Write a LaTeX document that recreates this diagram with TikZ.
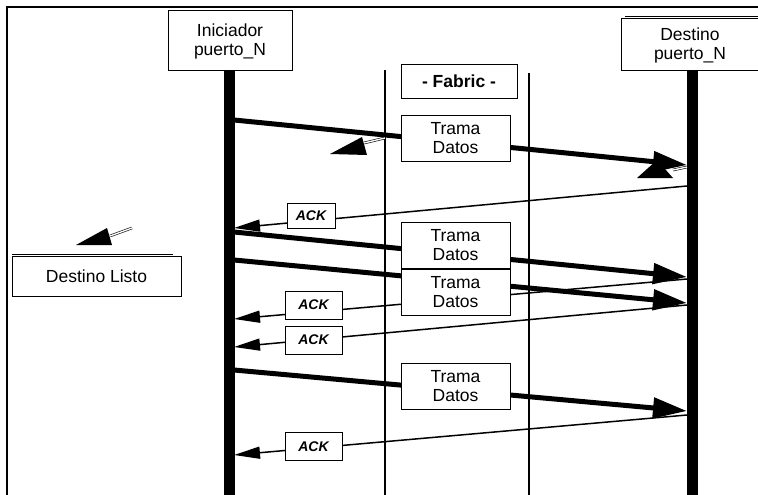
\documentclass[tikz,border=0pt]{standalone}
\usepackage{fontspec}
\setmainfont{Liberation Sans}
\usetikzlibrary{arrows.meta, backgrounds, positioning}

\begin{document}
\begin{tikzpicture}[
      x=1pt, y=-1pt,
      box/.style={draw, line width=1pt, fill=white, align=center, inner sep=0pt,
        font=\fontsize{17.5}{19}\selectfont},
      trama/.style={box, minimum width=109pt, minimum height=46pt},
      ackbox/.style={draw, line width=1pt, fill=white, inner sep=0pt,
        minimum width=57pt, minimum height=28pt,
        font=\fontsize{14}{14}\selectfont\bfseries\itshape},
      lifeline/.style={line width=11pt},
      fabric/.style={line width=2pt},
      data/.style={line width=5pt, -{Triangle[length=34pt, width=20pt]}},
      ack/.style={line width=1.5pt, -{Triangle[length=26pt, width=12pt]}},
      ghost/.style={double, line width=0.6pt, double distance=1.4pt}
    ]
      \useasboundingbox (0,0) rectangle (758,495);
      \draw[line width=2.5pt] (7,495) -- (7,7) -- (758,7);

      % end points
      \node[box, minimum width=124pt, minimum height=60pt] (ini) at (230,41) {Iniciador\\puerto\_N};
      \node[box, minimum width=138pt, minimum height=52pt] (dst) at (690,45) {Destino\\puerto\_N};
      \node[box, font=\fontsize{17.5}{19}\selectfont\bfseries,
        minimum width=116pt, minimum height=33pt] (fab) at (459,81.5) {- Fabric -};
      \node[box, minimum width=169pt, minimum height=40pt] (listo) at (96.5,276) {Destino Listo};

      % frames
      \node[trama] (trama1) at (455.5,138) {Trama\\Datos};
      \node[trama] (trama2) at (455.5,245) {Trama\\Datos};
      \node[trama, below=0pt of trama2] (trama3) {Trama\\Datos};
      \node[trama] (trama4) at (455.5,386.5) {Trama\\Datos};

      % acknowledgements
      \node[ackbox, minimum width=48pt, minimum height=25pt] (ack1) at (311,215.5) {ACK};
      \node[ackbox] (ack2) at (313.5,305) {ACK};
      \node[ackbox] (ack3) at (313.5,340) {ACK};
      \node[ackbox] (ack4) at (313.5,446.5) {ACK};

      \coordinate (iniend) at (229,495);
      \coordinate (dstend) at (692,495);
      \coordinate (fabl) at (385,70);
      \coordinate (fabr) at (529,73);

      \coordinate (i1) at (234,120);  \coordinate (d1) at (687,165);
      \coordinate (i2) at (234,232);  \coordinate (d2) at (687,277);
      \coordinate (i3) at (234,260);  \coordinate (d3) at (687,303);
      \coordinate (i4) at (234,370);  \coordinate (d4) at (687,411);

      \coordinate (a1d) at (687,186); \coordinate (a1i) at (234,228);
      \coordinate (a2d) at (687,279); \coordinate (a2i) at (234,319);
      \coordinate (a3d) at (687,305); \coordinate (a3i) at (234,347);
      \coordinate (a4d) at (687,415); \coordinate (a4i) at (234,455);

      \begin{scope}[on background layer]
        \fill[white] (0,0) rectangle (758,495);
        \draw[lifeline] (ini.south -| iniend) -- (iniend);
        \draw[lifeline] (dst.south -| dstend) -- (dstend);
        \draw[fabric] (fabl) -- (fabl |- iniend);
        \draw[fabric] (fabr) -- (fabr |- iniend);

        \draw[data] (i1) -- (d1);
        \draw[data] (i2) -- (d2);
        \draw[data] (i3) -- (d3);
        \draw[data] (i4) -- (d4);

        \draw[ack] (a1d) -- (a1i);
        \draw[ack] (a2d) -- (a2i);
        \draw[ack] (a3d) -- (a3i);
        \draw[ack] (a4d) -- (a4i);
      \end{scope}

      % loose arrow marks
      \draw[line width=1pt] (625,17) -- (758,17);
      \draw[line width=1pt] (12,254) -- (173,254);
      \fill (330,154) -- (362,137) -- (367,155) -- cycle;
      \draw[ghost] (364,143) -- (385,138);
      \fill (76,245) -- (107,228) -- (112,245) -- cycle;
      \draw[ghost] (110,236) -- (132,228);
      \fill (637,178) -- (657,160) -- (673,178) -- cycle;
      \draw[ghost] (673,170) -- (687,167);
  \end{tikzpicture}
\end{document}
